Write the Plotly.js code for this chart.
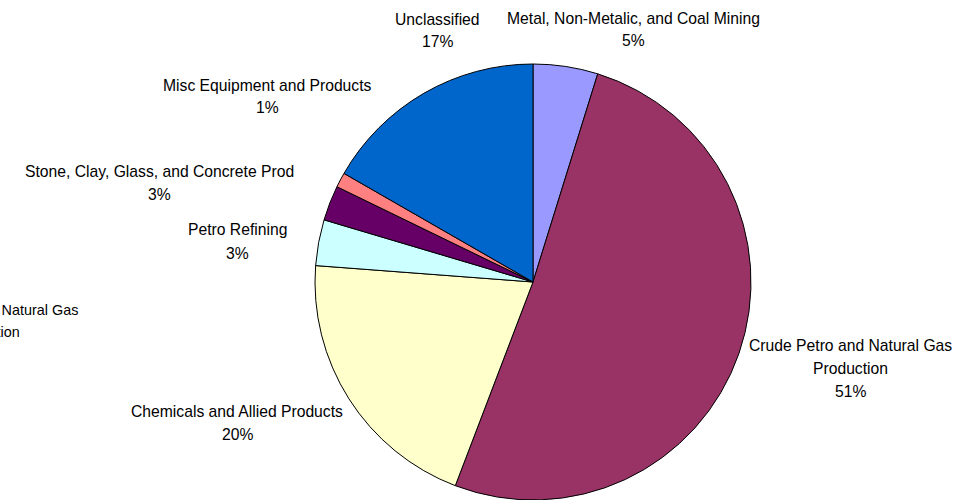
<!DOCTYPE html>
<html>
<head>
<meta charset="utf-8">
<script src="https://cdn.plot.ly/plotly-3.0.1.min.js"></script>
<style>html,body{margin:0;padding:0;background:#fff;}#chart{width:975px;height:500px;}</style>
</head>
<body>
<div id="chart"></div>
<script>
// Data (clockwise from 12 o'clock)
var categories = [
  "Metal, Non-Metalic, and Coal Mining",
  "Crude Petro and Natural Gas<br>Production",
  "Chemicals and Allied Products",
  "Petro Refining",
  "Stone, Clay, Glass, and Concrete Prod",
  "Misc Equipment and Products",
  "Unclassified"
];
var shares = [4.8, 51.0, 20.4, 3.4, 2.6, 1.1, 16.7];
var sliceColors = ["#9999FF", "#993366", "#FFFFCC", "#CCFFFF", "#660066", "#FF8080", "#0066CC"];

// Label placement (pixel centres of first line), style only
var W = 975, H = 500;
var labelPos = [
  [633, 18], [850, 345], [237, 411], [237.5, 230], [159, 171], [267, 85], [437, 19]
];
var lineGap = 23;
var fontFam = "Liberation Sans, Arial, sans-serif";
var fontSize = 15.7;
// stray duplicate label partly outside the canvas (from original image)
var extraLabels = [{idx: 1, pos: [-15, 310], size: 14.4, gap: 22}];

var total = shares.reduce(function(a, b){ return a + b; }, 0);
function pctText(i){ return Math.round(shares[i] / total * 100) + "%"; }

var annotations = [];
function addLabel(i, pos, size, gap){
  var lines = categories[i].split("<br>").concat([pctText(i)]);
  lines.forEach(function(t, k){
    annotations.push({
      xref: "paper", yref: "paper",
      x: pos[0] / W, y: 1 - (pos[1] + k * gap) / H,
      xanchor: "center", yanchor: "middle",
      text: t, showarrow: false,
      font: {family: fontFam, size: size, color: "#000"}
    });
  });
}
categories.forEach(function(c, i){ addLabel(i, labelPos[i], fontSize, lineGap); });
extraLabels.forEach(function(e){ addLabel(e.idx, e.pos, e.size, e.gap); });

var cx = 533, cy = 282, r = 218;
var trace = {
  type: "pie",
  labels: categories,
  values: shares,
  sort: false,
  direction: "clockwise",
  rotation: 0,
  textinfo: "none",
  hoverinfo: "label+percent",
  marker: {colors: sliceColors, line: {color: "#000", width: 1}},
  domain: {x: [(cx - r) / W, (cx + r) / W], y: [1 - (cy + r) / H, 1 - (cy - r) / H]}
};

var layout = {
  width: W, height: H,
  margin: {l: 0, r: 0, t: 0, b: 0},
  showlegend: false,
  paper_bgcolor: "#fff",
  annotations: annotations
};
Plotly.newPlot("chart", [trace], layout, {displayModeBar: false, staticPlot: true});
</script>
</body>
</html>
